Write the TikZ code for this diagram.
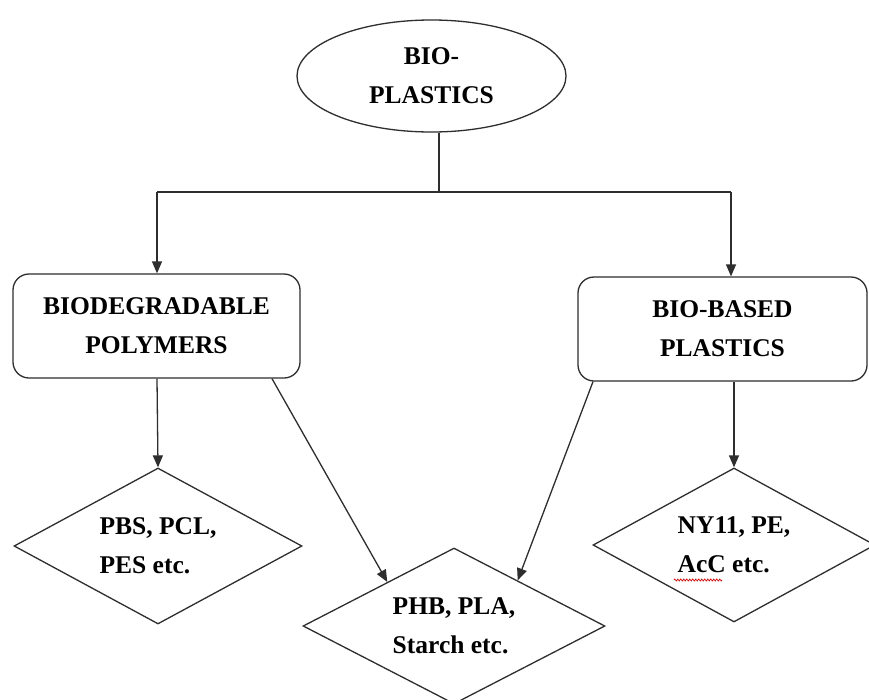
\documentclass[tikz,border=0pt]{standalone}
\usepackage{fontspec}
\setmainfont{Liberation Serif}
\usetikzlibrary{shapes.geometric,arrows.meta,calc,decorations.pathmorphing}
\begin{document}
\begin{tikzpicture}[x=1pt,y=-1pt,
  every node/.style={font=\fontsize{25.5}{39}\selectfont\bfseries},
  line/.style={line width=1.3pt,draw=black!82},
  arr/.style={line, -{Triangle[length=12pt,width=10pt]}},
  oval/.style={ellipse, line, minimum width=269pt, minimum height=112pt, inner sep=0pt, align=center},
  rbox/.style={rectangle, rounded corners=16pt, line, minimum width=287pt, minimum height=104pt, inner sep=0pt, align=center},
  dia/.style={diamond, aspect=1.85, line, inner sep=0pt, align=left}
]
\useasboundingbox (0,0) rectangle (869,699);
\clip (0,0) rectangle (869,699);
\fill[white] (0,0) rectangle (869,699);

\node[oval] (el) at (431.5,76) {BIO-\\PLASTICS};
\node[rbox] (lb) at (156.5,326) {BIODEGRADABLE\\POLYMERS};
\node[rbox, minimum width=289pt] (rb) at (722.5,329) {BIO-BASED\\PLASTICS};
\node[dia, minimum width=288pt, minimum height=156pt] (ld) at (158,546) {PBS, PCL,\\PES etc.};
\node[dia, minimum width=302pt, minimum height=156pt] (md) at (454,626) {PHB, PLA,\\Starch etc.};
\node[dia, minimum width=282pt, minimum height=154pt] (rd) at (734,545) {NY11, PE,\\AcC etc.};

\coordinate (hj) at (439,192);
\coordinate (hl) at (157,192);
\coordinate (hr) at (731,192);

\draw[line] ([xshift=7.5pt]el.south) -- (hj);
\draw[line] (hl) -- (hr);
\draw[arr] (hl) -- (hl |- lb.north);
\draw[arr] (hr) -- (hr |- rb.north);

\draw[arr] ([xshift=0.5pt]lb.south) -- (ld.north);
\draw[arr] ([xshift=115.5pt]lb.south) -- ($(md.west)!0.56!(md.north)$);
\draw[arr] ([xshift=-129.5pt]rb.south) -- ($(md.north)!0.42!(md.east)$);
\draw[arr] ([xshift=11.5pt]rb.south) -- (rd.north);

% spell-check squiggle under AcC
\draw[red, line width=0.6pt, decorate, decoration={zigzag, amplitude=1.1pt, segment length=3pt}] (674,580) -- (722,580);
\end{tikzpicture}
\end{document}
